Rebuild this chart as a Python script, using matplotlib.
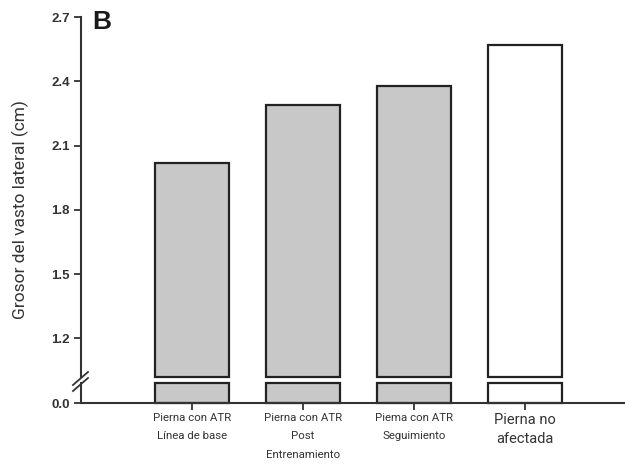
import matplotlib.pyplot as plt
import numpy as np

# data
groups = ["Pierna con ATR\nLínea de base",
          "Pierna con ATR\nPost\nEntrenamiento",
          "Piema con ATR\nSeguimiento",
          "Pierna no\nafectada"]
thickness = [2.02, 2.29, 2.38, 2.57]
fills = ["#c8c8c8", "#c8c8c8", "#c8c8c8", "#ffffff"]
upper_ticks = [1.2, 1.5, 1.8, 2.1, 2.4, 2.7]
upper_lim = (1.02, 2.7)
lower_lim = (0.0, 0.09)

plt.rcParams['font.family'] = ['Liberation Sans', 'DejaVu Sans']

fig = plt.figure(figsize=(6.25, 4.66), dpi=100)
left, right = 81 / 625, 1.0
ax_top = fig.add_axes([left, 1 - 377 / 466, right - left, (377 - 17) / 466])
ax_bot = fig.add_axes([left, 1 - 403 / 466, right - left, (403 - 383) / 466])

x = np.arange(len(groups))
edge = "#222222"
lw = 1.6

# upper section of the broken axis
ax_top.bar(x, np.array(thickness) - upper_lim[0], bottom=upper_lim[0], width=0.66,
           color=fills, edgecolor=edge, linewidth=lw, clip_on=False)
ax_top.set_ylim(*upper_lim)
ax_top.set_yticks(upper_ticks)
ax_top.set_yticklabels([f"{t:.1f}" for t in upper_ticks])

# lower section
ax_bot.bar(x, np.minimum(thickness, lower_lim[1]), width=0.66,
           color=fills, edgecolor=edge, linewidth=lw, clip_on=False)
ax_bot.set_ylim(*lower_lim)
ax_bot.set_yticks([0.0])
ax_bot.set_yticklabels(["0.0"])

for ax in (ax_top, ax_bot):
    ax.set_xlim(-1.0, 3.9)
    ax.spines['top'].set_visible(False)
    ax.spines['right'].set_visible(False)
    ax.spines['left'].set_linewidth(1.5)
    ax.spines['left'].set_color("#333333")
    ax.tick_params(axis='y', length=5, width=1.3, color="#333333", pad=3,
                   labelsize=9.5, labelcolor="#333333")
    for lab in ax.get_yticklabels():
        lab.set_fontweight('bold')
    ax.set_facecolor('none')

ax_top.spines['bottom'].set_visible(False)
ax_top.set_xticks([])
ax_bot.spines['bottom'].set_linewidth(1.5)
ax_bot.spines['bottom'].set_color("#333333")
ax_bot.set_xticks(x)
ax_bot.set_xticklabels(groups, family=['Roboto', 'DejaVu Sans'], fontsize=8.2,
                       linespacing=2.05, color="#333333", va='top')
ax_bot.get_xticklabels()[-1].set_fontsize(10.5)
ax_bot.get_xticklabels()[-1].set_linespacing(1.5)
ax_bot.tick_params(axis='x', length=5, width=1.3, color="#333333", pad=2)

# break marks on the y axis
for dy in (0, 6):
    fig.add_artist(plt.Line2D([73 / 625, 88 / 625],
                              [1 - (385 + dy) / 466, 1 - (372 + dy) / 466],
                              transform=fig.transFigure, color="#333333", lw=1.3))

fig.text(20 / 625, 1 - 210 / 466, "Grosor del vasto lateral (cm)", rotation=90,
         ha='center', va='center', fontsize=12.5, color="#333333",
         family=['Roboto', 'DejaVu Sans'])
fig.text(92 / 625, 1 - 22 / 466, "B", fontsize=19, fontweight='bold',
         ha='left', va='center', color="#1a1a1a")

fig.savefig("out.png", dpi=100)
